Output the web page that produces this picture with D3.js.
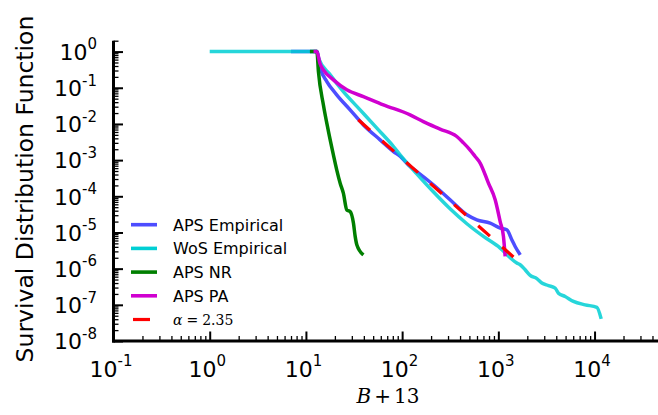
<!DOCTYPE html>
<html>
<head>
<meta charset="utf-8">
<script src="https://cdn.jsdelivr.net/npm/d3@7"></script>
<style>
  html, body { margin: 0; padding: 0; background: #fff; }
  svg { display: block; }
  text { font-family: "DejaVu Sans", sans-serif; fill: #000; }
</style>
</head>
<body>
<svg id="chart" width="658" height="415"></svg>
<script>
// Survival distribution function of B + 13, each series as [x, SDF] pairs
const apsEmpirical = [
  [7, 1], [13, 1], [14.1, 0.348], [16.5, 0.148], [20.9, 0.0637], [28.8, 0.0245],
  [39.6, 0.0094], [59, 0.00364], [81.3, 0.00173], [95.8, 0.00126], [121, 6.65e-4],
  [142, 4.84e-4], [211, 2.08e-4], [315, 8.0e-5], [471, 3.08e-5], [598, 2.24e-5],
  [822, 1.82e-5], [1045, 1.32e-5], [1225, 1.19e-5], [1380, 6.3e-6], [1495, 4.1e-6],
  [1690, 2.4e-6]
];
const wosEmpirical = [
  [1, 1], [13, 1], [13.5, 0.657], [17.9, 0.227], [24.5, 0.0785], [36.6, 0.0245],
  [54.6, 0.00766], [81.3, 0.00238], [95.3, 0.0014], [142, 4.18e-4], [211, 1.33e-4],
  [315, 4.52e-5], [471, 1.74e-5], [700, 7.76e-6], [1045, 3.7e-6], [1327, 2.0e-6],
  [1556, 1.43e-6], [1686, 1.28e-6], [1900, 9.3e-7], [2143, 6.5e-7], [2514, 5.3e-7],
  [2832, 4.0e-7], [3318, 3.4e-7], [3893, 2.9e-7], [4214, 2.1e-7], [4944, 1.7e-7],
  [6035, 1.24e-7], [7985, 1.0e-7], [10570, 8.5e-8], [11720, 4.1e-8]
];
const apsNR = [
  [11, 1], [13, 1], [13.5, 0.275], [15.2, 0.0333], [17.1, 0.00644], [19.3, 0.0014],
  [20.9, 5.4e-4], [22.7, 2.3e-4], [24.5, 1.22e-4], [26.6, 4.2e-5], [28.8, 3.8e-5],
  [31.2, 1.8e-5], [32.5, 7.8e-6], [33.8, 4.6e-6], [39.6, 2.4e-6]
];
const apsPA = [
  [12, 1], [13, 1], [14, 0.47], [15.2, 0.312], [19.3, 0.165], [26.6, 0.0875],
  [39.6, 0.0571], [63.9, 0.0337], [121, 0.0178], [166, 0.0116], [248, 0.0072],
  [370, 0.0045], [434, 0.003], [509, 0.0019], [574, 0.00126], [647, 8.3e-4],
  [789, 2.3e-4], [927, 8.0e-5], [1045, 2.0e-5], [1130, 7.8e-6], [1177, 2.2e-6]
];
// Power-law fit: straight line in log-log space with slope -alpha
const fitAlpha = 2.35;
const fitRange = [35, 1435];
const fitStartValue = 0.013;

const legendLabels = ["APS Empirical", "WoS Empirical", "APS NR", "APS PA"];
const seriesColors = ["#4d4dff", "#00cfd4", "#007f00", "#d000d0"];
const xDecades = [-1, 0, 1, 2, 3, 4];
const yDecades = [-8, -7, -6, -5, -4, -3, -2, -1, 0];

const svg = d3.select("#chart");
svg.append("rect").attr("width", 658).attr("height", 415).attr("fill", "#fff");

const x = d3.scaleLog().domain([0.1, 5e4]).range([113.5, 661.8]);
const y = d3.scaleLog().domain([1e-8, 2]).range([341, 40.7]);

const xMajor = xDecades.map(e => Math.pow(10, e));
const yMajor = yDecades.map(e => Math.pow(10, e));
const minorOf = (decades, lo, hi) => {
  const out = [];
  decades.forEach(e => { for (let k = 2; k <= 9; k++) { const v = k * Math.pow(10, e); if (v >= lo && v <= hi) out.push(v); } });
  return out;
};
const xMinor = minorOf(xDecades, 0.1, 5e4);
const yMinor = minorOf(yDecades, 1e-8, 2);

// Axes: inward ticks, thick spines on the left and bottom only
function styleAxis(g, width) {
  g.selectAll(".tick text").remove();
  g.selectAll(".tick line").attr("stroke", "#000").attr("stroke-width", width);
  g.select(".domain").remove();
}
const gx = svg.append("g").attr("transform", `translate(0,${y.range()[0]})`);
gx.append("g").call(d3.axisBottom(x).tickValues(xMinor).tickSizeInner(-5).tickSizeOuter(0)).call(g => styleAxis(g, 1.3));
gx.append("g").call(d3.axisBottom(x).tickValues(xMajor).tickSizeInner(-9.5).tickSizeOuter(0)).call(g => styleAxis(g, 2));

const gy = svg.append("g").attr("transform", `translate(${x.range()[0]},0)`);
gy.append("g").call(d3.axisLeft(y).tickValues(yMinor).tickSizeInner(-5).tickSizeOuter(0)).call(g => styleAxis(g, 1.3));
gy.append("g").call(d3.axisLeft(y).tickValues(yMajor).tickSizeInner(-9.5).tickSizeOuter(0)).call(g => styleAxis(g, 2));

// spines
svg.append("line").attr("x1", x.range()[0] - 1.5).attr("x2", 658).attr("y1", y.range()[0]).attr("y2", y.range()[0])
  .attr("stroke", "#000").attr("stroke-width", 3);
svg.append("line").attr("x1", x.range()[0]).attr("x2", x.range()[0]).attr("y1", y.range()[0] + 1.5).attr("y2", y.range()[1])
  .attr("stroke", "#000").attr("stroke-width", 3);

// tick labels as powers of ten
function powerLabel(sel, exp) {
  sel.append("tspan").text("10");
  sel.append("tspan").attr("font-size", 15).attr("dy", -10.5).text(String(exp));
}
xDecades.forEach(e => {
  svg.append("text").attr("x", x(Math.pow(10, e)) - 2.5).attr("y", 376.5)
    .attr("text-anchor", "middle").attr("font-size", 22).call(t => powerLabel(t, e));
});
yDecades.forEach(e => {
  svg.append("text").attr("x", 97).attr("y", y(Math.pow(10, e)) + 8.3)
    .attr("text-anchor", "end").attr("font-size", 22).call(t => powerLabel(t, e));
});

// axis titles
svg.append("text").attr("transform", "translate(33,189) rotate(-90)")
  .attr("text-anchor", "middle").attr("font-size", 23.5).text("Survival Distribution Function");
const xTitle = svg.append("text").attr("x", 388).attr("y", 403).attr("text-anchor", "middle")
  .style("font-family", "'DejaVu Serif', serif").attr("font-size", 20);
xTitle.append("tspan").attr("font-style", "italic").text("B");
xTitle.append("tspan").attr("dx", 3).text("+");
xTitle.append("tspan").attr("dx", 3).text("13");

// data lines
const line = d3.line().x(d => x(d[0])).y(d => y(d[1])).curve(d3.curveMonotoneX);
const series = [apsEmpirical, wosEmpirical, apsNR, apsPA];
series.forEach((s, i) => {
  svg.append("path").datum(s).attr("d", line)
    .attr("fill", "none").attr("stroke", seriesColors[i]).attr("stroke-width", 3.5)
    .attr("stroke-linejoin", "round").attr("stroke-linecap", "butt")
    .attr("stroke-opacity", i === 1 ? 0.85 : 1);
});

// power-law fit
const fitLine = d3.line().x(d => x(d[0])).y(d => y(d[1]));
const fitPoints = fitRange.map(v => [v, fitStartValue * Math.pow(v / fitRange[0], -fitAlpha)]);
svg.append("path").datum(fitPoints).attr("d", fitLine)
  .attr("fill", "none").attr("stroke", "#ff0000").attr("stroke-width", 3.2)
  .attr("stroke-dasharray", "15.7,16.3");

// legend
const legendTop = 224.7, legendStep = 23.7;
legendLabels.forEach((lab, i) => {
  const ly = legendTop + i * legendStep;
  svg.append("line").attr("x1", 131).attr("x2", 157).attr("y1", ly).attr("y2", ly)
    .attr("stroke", seriesColors[i]).attr("stroke-width", 3.6);
  svg.append("text").attr("x", 173).attr("y", ly + 6).attr("font-size", 16).text(lab);
});
{
  const ly = legendTop + 4 * legendStep;
  svg.append("line").attr("x1", 133).attr("x2", 157).attr("y1", ly).attr("y2", ly)
    .attr("stroke", "#ff0000").attr("stroke-width", 3.2).attr("stroke-dasharray", "17,16");
  const t = svg.append("text").attr("x", 173).attr("y", ly + 5)
    .style("font-family", "'DejaVu Serif', serif").attr("font-size", 14);
  t.append("tspan").attr("font-style", "italic").text("α");
  t.append("tspan").attr("dx", 4).text("=");
  t.append("tspan").attr("dx", 4).text(String(fitAlpha));
}
</script>
</body>
</html>
